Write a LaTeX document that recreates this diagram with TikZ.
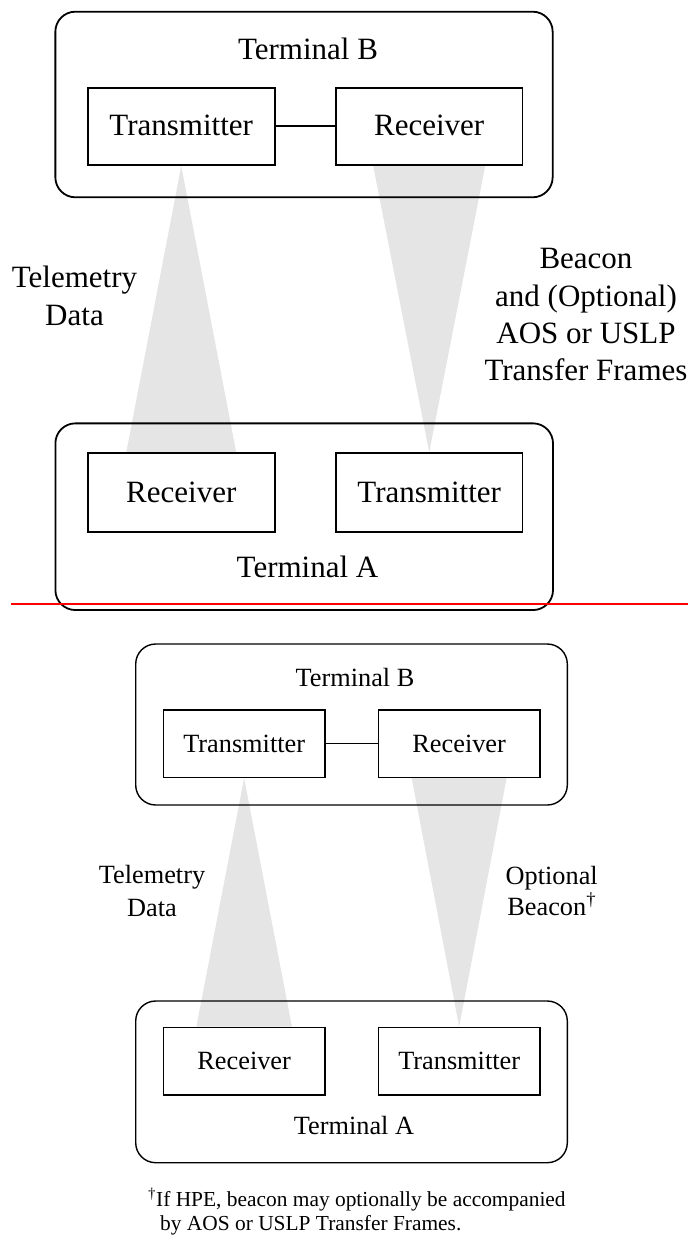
\documentclass[tikz,border=0pt]{standalone}
\usepackage{fontspec}
\setmainfont{Liberation Serif}
\usetikzlibrary{backgrounds}
\definecolor{beamgray}{RGB}{229,229,229}
\begin{document}
\begin{tikzpicture}[x=1pt,y=-1pt,
  bigfont/.style={font=\fontsize{31}{37}\selectfont},
  smallfont/.style={font=\fontsize{26.3}{31}\selectfont},
  notefont/.style={font=\fontsize{21.4}{25}\selectfont},
  toplw/.style={line width=1.8pt},
  botlw/.style={line width=1.4pt},
  termbox/.style={draw, rounded corners=20pt, inner sep=0pt},
  unitbox/.style={draw, inner sep=0pt},
  topunit/.style={unitbox, toplw, bigfont, minimum width=186.7pt, minimum height=77.3pt, text height=23pt, text depth=4pt},
  botunit/.style={unitbox, botlw, smallfont, minimum width=161.7pt, minimum height=67.5pt, text height=19pt, text depth=2pt},
  txt/.style={inner sep=0pt, anchor=base},
  beam/.style={fill=beamgray}
]
\useasboundingbox (0,0) rectangle (688,1247);

% ---------------- top diagram ----------------
\node[termbox, toplw, minimum width=497.3pt, minimum height=185.6pt] (tB) at (304,104.5) {};
\node[txt, bigfont] (tBlab) at (308,59.5) {Terminal B};
\node[topunit] (txB) at (181.25,126.35) {Transmitter};
\node[topunit] (rxB) at (429.2,126.35) {Receiver};
\draw[toplw] (txB.east) -- (rxB.west);

\node[termbox, toplw, minimum width=497.6pt, minimum height=186.7pt] (tA) at (304.2,516.7) {};
\node[txt, bigfont] (tAlab) at (307.5,577.3) {Terminal A};
\node[topunit, minimum height=78.4pt] (rxA) at (181.25,492.5) {Receiver};
\node[topunit, minimum height=78.4pt] (txA) at (429.2,492.5) {Transmitter};

\node[txt, bigfont] (tel1) at (74.5,287.3) {Telemetry};
\node[txt, bigfont] (tel2) at (74.5,325) {Data};
\node[txt, bigfont] (bc1) at (586,268.3) {Beacon};
\node[txt, bigfont] (bc2) at (586,306) {and (Optional)};
\node[txt, bigfont] (bc3) at (586,343.3) {AOS or USLP};
\node[txt, bigfont] (bc4) at (586,380) {Transfer Frames};

% ---------------- bottom diagram ----------------
\node[termbox, botlw, minimum width=431.6pt, minimum height=161pt] (tB2) at (351.5,724.5) {};
\node[txt, smallfont] (tB2lab) at (355,686) {Terminal B};
\node[botunit] (txB2) at (244.15,743.65) {Transmitter};
\node[botunit] (rxB2) at (459.15,743.65) {Receiver};
\draw[botlw] (txB2.east) -- (rxB2.west);

\node[termbox, botlw, minimum width=431.6pt, minimum height=161.7pt] (tA2) at (351.5,1081.85) {};
\node[txt, smallfont] (tA2lab) at (354,1134.3) {Terminal A};
\node[botunit] (rxA2) at (244.15,1061.15) {Receiver};
\node[botunit] (txA2) at (459.15,1061.15) {Transmitter};

\node[txt, smallfont] (tel3) at (152,883.3) {Telemetry};
\node[txt, smallfont] (tel4) at (152,916) {Data};
\node[txt, smallfont] (opt1) at (551.7,884) {Optional};
\node[txt, smallfont] (opt2) at (551.7,915) {Beacon\textsuperscript{†}};

\node[txt, notefont, anchor=base west] (fn1) at (148,1206) {\textsuperscript{†}If HPE, beacon may optionally be accompanied};
\node[txt, notefont, anchor=base west] (fn2) at (160,1230) {by AOS or USLP Transfer Frames.};

% ---------------- beams ----------------
\begin{scope}[on background layer]
  \fill[beam] (txB.south) -- ([xshift=55pt]rxA.north) -- ([xshift=-55pt]rxA.north) -- cycle;
  \fill[beam] ([xshift=-56pt]rxB.south) -- ([xshift=56pt]rxB.south) -- (txA.north) -- cycle;
  \fill[beam] (txB2.south) -- ([xshift=47.8pt]rxA2.north) -- ([xshift=-47.8pt]rxA2.north) -- cycle;
  \fill[beam] ([xshift=-47.5pt]rxB2.south) -- ([xshift=47.5pt]rxB2.south) -- (txA2.north) -- cycle;
\end{scope}

% ---------------- separator ----------------
\coordinate (sepL) at (11,604);
\coordinate (sepR) at (688,604);
\draw[red, line width=2pt] (sepL) -- (sepR);
\end{tikzpicture}
\end{document}
